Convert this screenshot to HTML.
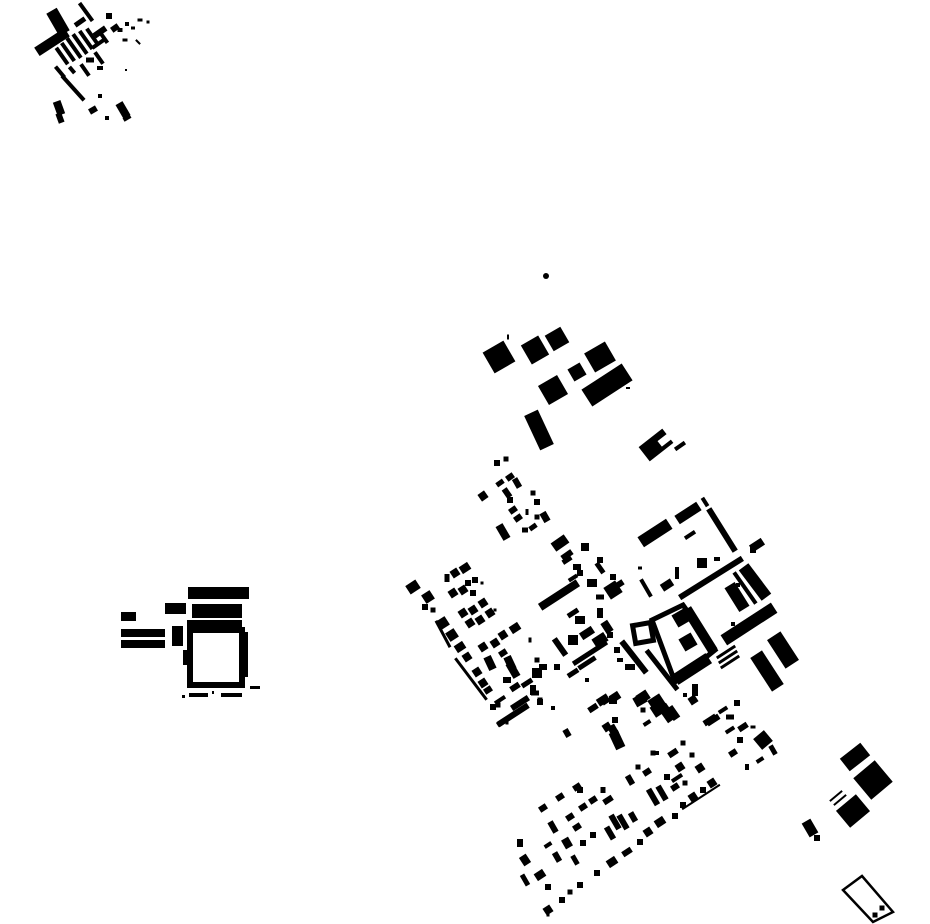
<!DOCTYPE html>
<html><head><meta charset="utf-8"><style>html,body{margin:0;padding:0;background:#fff;width:930px;height:924px;overflow:hidden}svg{display:block}</style></head>
<body>
<svg id="s" width="930" height="924" viewBox="0 0 930 924" xmlns="http://www.w3.org/2000/svg">
<circle cx="546" cy="276" r="3" fill="#000"/>
<g fill="#000">
<rect x="188" y="587" width="61" height="12"/>
<rect x="192" y="604" width="50" height="14"/>
<rect x="187" y="620" width="55" height="13"/>
<rect x="165" y="603" width="21" height="11"/>
<rect x="121" y="612" width="15" height="9"/>
<rect x="121" y="629" width="44" height="8"/>
<rect x="121" y="640" width="44" height="8"/>
<rect x="172" y="626" width="11" height="20"/>
<rect x="183" y="650" width="9" height="15"/>
<rect x="243" y="632" width="5" height="45"/>
<rect x="250" y="686" width="10" height="3"/>
<rect x="189" y="693" width="19" height="4"/>
<rect x="221" y="693" width="21" height="4"/>
<rect x="182" y="695" width="3" height="3"/>
<rect x="212" y="691" width="2" height="3"/>
</g>
<rect x="190" y="630" width="52" height="55" fill="none" stroke="#000" stroke-width="6"/>
<rect x="634" y="624" width="18" height="18" fill="none" stroke="#000" stroke-width="5" transform="rotate(-10 643 633)"/>
<polygon points="652,620 683,605 715,650 675,682" fill="none" stroke="#000" stroke-width="5"/>
<polygon points="843,890 862,876 893,912 873,922" fill="none" stroke="#000" stroke-width="2.5"/>
</svg>
<script>
var s=document.getElementById('s');
function R(cx,cy,w,h,a,c){var r=document.createElementNS('http://www.w3.org/2000/svg','rect');r.setAttribute('x',cx-w/2);r.setAttribute('y',cy-h/2);r.setAttribute('width',w);r.setAttribute('height',h);r.setAttribute('fill',c||'#000');if(a)r.setAttribute('transform','rotate('+a+' '+cx+' '+cy+')');s.appendChild(r);}
var L=[
[52,42,36,10,-33],[58,22,12,26,-30],[86,12,22,4,54],[80,22,12,5,-35],[109,16,6,6,0],
[62,56,20,4,55],[68,52,22,4,55],[74,48,24,4,55],[80,44,24,4,55],[86,40,22,4,55],[92,36,18,4,55],
[100,32,14,6,-35],[98,44,14,4,-35],[104,38,4,12,-35],[115,28,8,6,-35],[120,30,5,4,0],[127,24,4,4,0],[133,28,4,3,0],[140,20,5,3,0],[148,22,3,3,0],[125,40,5,3,0],[138,42,6,2,45],
[73,88,33,4,48],[60,72,14,4,50],[72,70,8,4,50],[85,70,14,4,55],[100,68,6,4,0],[99,58,14,4,55],[90,60,8,5,0],
[59,108,8,14,-20],[60,118,6,10,-20],[93,110,8,6,-30],[100,96,4,4,0],[123,110,8,16,-30],[127,118,8,4,-30],[107,118,4,4,0],[126,70,2,2,0],
[499,357,24,24,-30],[535,350,20,22,-30],[557,339,18,18,-30],[600,357,24,22,-30],[577,372,14,14,-30],[553,390,22,22,-30],[607,385,48,20,-33],[539,430,15,38,-25],
[508,337,2,5,0],[628,388,4,2,0],[680,446,12,4,-35],[656,445,30,18,-38],
[497,463,6,6,0],[506,459,5,5,0],[510,477,8,6,-35],[500,483,8,5,-35],[517,483,6,10,-30],[483,496,8,8,-35],[507,493,6,10,-35],[510,500,6,6,0],[513,510,8,6,-35],[518,518,8,6,-35],[525,530,6,5,0],[503,532,8,16,-30],[533,493,5,5,0],[537,502,6,6,0],[537,517,5,5,0],[545,517,7,10,-30],[533,527,8,5,-35],[527,512,3,6,0],
[655,533,34,12,-33],[688,513,26,10,-33],[722,530,50,6,58],[705,502,10,4,58],[690,535,12,4,-33],[757,545,14,8,-33],[753,550,6,6,0],
[702,563,10,10,0],[717,559,6,4,0],[640,568,4,3,0],[646,588,20,4,60],[667,585,12,8,-33],[677,573,4,12,0],
[711,578,74,6,-32],[755,582,38,12,53],[745,588,38,4,55],[737,597,28,12,58],[738,585,4,4,0],[749,624,60,12,-33],[733,624,4,4,0],
[726,652,22,3,-33],[728,657,22,3,-33],[730,662,22,3,-33],[783,650,34,16,57],[767,671,40,14,57],
[681,618,14,14,-30],[688,642,14,14,-30],[692,669,40,12,-33],[700,630,50,10,58],[662,670,50,5,52],[695,690,6,12,0],[685,695,4,4,0],
[560,543,16,10,-35],[567,555,12,6,-35],[585,547,8,8,0],[600,560,6,6,0],[600,568,12,5,55],[613,577,6,6,0],
[567,560,10,5,-33],[577,567,8,6,0],[580,573,6,6,0],[573,578,10,4,-33],[559,595,45,8,-33],[592,583,10,8,0],[618,585,12,6,-33],[613,590,14,14,-33],
[600,597,8,5,0],[573,613,12,5,-33],[580,620,10,8,0],[600,613,6,10,0],[607,627,8,12,-33],
[560,647,20,6,55],[573,640,10,10,0],[587,633,14,8,-33],[600,640,14,10,-33],[610,635,6,6,0],[590,653,40,5,-33],
[634,657,40,6,52],[617,650,6,6,0],[630,667,10,6,0],[620,660,6,4,0],
[537,660,5,5,0],[543,667,8,6,0],[537,673,10,10,0],[557,667,6,6,0],[527,683,12,5,-33],[515,687,10,6,-33],[500,700,12,4,-33],[513,715,36,6,-33],[533,690,6,10,0],[540,700,5,5,0],[553,708,4,4,0],[573,673,12,5,-33],[587,663,20,5,-33],
[587,680,4,4,0],[603,700,12,8,-33],[613,700,8,8,0],[640,700,12,10,-30],[657,703,14,14,-33],[667,713,18,10,55],[643,710,5,5,0],[713,720,14,6,-33],[730,717,8,5,0],[743,727,10,6,-33],[613,730,8,10,-30],
[413,587,12,10,-33],[428,597,10,10,-33],[425,607,6,6,0],[433,610,5,5,0],[443,623,10,10,-33],[452,635,10,10,-33],[460,647,10,8,-33],[467,657,8,8,-33],[477,672,8,8,-33],[483,683,8,8,-33],[488,690,8,6,-33],
[443,634,30,3,62],[471,679,52,3,53],
[447,578,5,8,0],[455,573,8,8,-33],[465,568,10,8,-33],[468,583,6,6,0],[475,580,6,6,0],[482,583,3,3,0],[453,593,8,8,-33],[463,590,8,8,-33],[473,593,6,6,0],
[463,613,8,8,-33],[473,610,8,8,-33],[483,603,8,8,-33],[490,613,8,8,-33],[470,623,8,8,-33],[480,620,8,8,-33],[495,610,3,3,0],
[483,647,8,8,-33],[495,643,8,8,-33],[503,635,8,8,-33],[515,628,10,8,-33],[503,653,8,6,-33],[490,663,8,14,-25],[510,663,8,14,-25],[513,670,8,16,-30],[507,680,8,6,0],[530,640,3,5,0],
[493,707,6,6,0],[498,705,5,5,0],[507,723,3,3,0],
[510,717,30,5,-33],[520,703,20,6,-33],[535,693,8,5,0],[540,702,6,6,0],
[567,733,6,8,-30],[593,708,10,6,-33],[605,700,8,8,-33],[615,697,10,8,-33],[607,727,8,8,-33],[615,720,6,6,0],[617,740,10,18,-25],
[643,697,12,10,-33],[657,710,10,12,-33],[673,713,14,8,55],[693,700,8,8,-33],[647,723,8,4,-33],
[710,720,14,6,-33],[723,710,10,4,-33],[737,703,6,6,0],[730,730,10,4,-33],[740,740,6,6,0],[753,727,5,3,0],[763,740,14,14,-40],[773,750,5,10,-30],[733,753,8,6,-33],[747,767,4,6,0],[760,760,8,4,-33],
[657,753,4,4,0],[673,753,10,6,-33],[683,743,5,5,0],[692,755,5,5,0],[680,767,8,8,-33],[700,768,8,8,-33],[667,777,6,6,0],[677,778,12,4,-33],[647,772,8,6,-33],[638,767,5,5,0],[630,780,6,10,-30],[675,787,8,6,-33],[685,783,5,5,0],[653,753,5,5,0],
[653,797,6,18,-30],[662,793,6,16,-30],[693,797,8,8,-33],[703,790,6,6,0],[712,783,8,8,-33],[683,805,6,6,0],[701,797,45,2,-33],
[615,822,6,16,-30],[623,822,6,16,-30],[633,817,6,10,-30],[610,833,6,14,-30],[593,835,6,6,0],[583,843,6,6,0],[575,860,5,10,-30],[567,843,8,10,-30],[557,857,6,10,-30],[553,827,6,12,-30],[548,845,8,4,-33],
[570,817,8,6,-33],[577,827,8,6,-33],[583,807,8,6,-33],[593,800,8,6,-33],[580,790,6,6,0],[603,790,5,6,0],[608,800,10,6,-33],[560,797,8,6,-33],[543,808,8,6,-33],[577,787,8,6,-33],
[660,822,10,8,-33],[675,816,6,6,0],[648,832,8,8,-33],[640,842,6,6,0],[627,852,10,6,-33],[612,862,10,8,-33],[597,873,6,6,0],[580,885,6,6,0],[570,892,5,5,0],[562,900,6,6,0],[548,910,8,8,-33],[548,915,3,3,0],
[520,843,6,8,0],[525,860,8,10,-33],[540,875,10,8,-33],[525,880,5,12,-30],[548,887,6,6,0],
[855,757,26,16,-38],[873,780,28,28,-40],[853,811,26,22,-40],[836,796,16,2,-40],[840,800,16,2,-40],[810,828,10,16,-30],[817,838,6,6,0],[875,915,5,5,0],[882,908,5,5,0]
];
L.forEach(function(a){R(a[0],a[1],a[2],a[3],a[4]);});
R(666,439,16,7,-38,'#fff');
</script>
</body></html>
